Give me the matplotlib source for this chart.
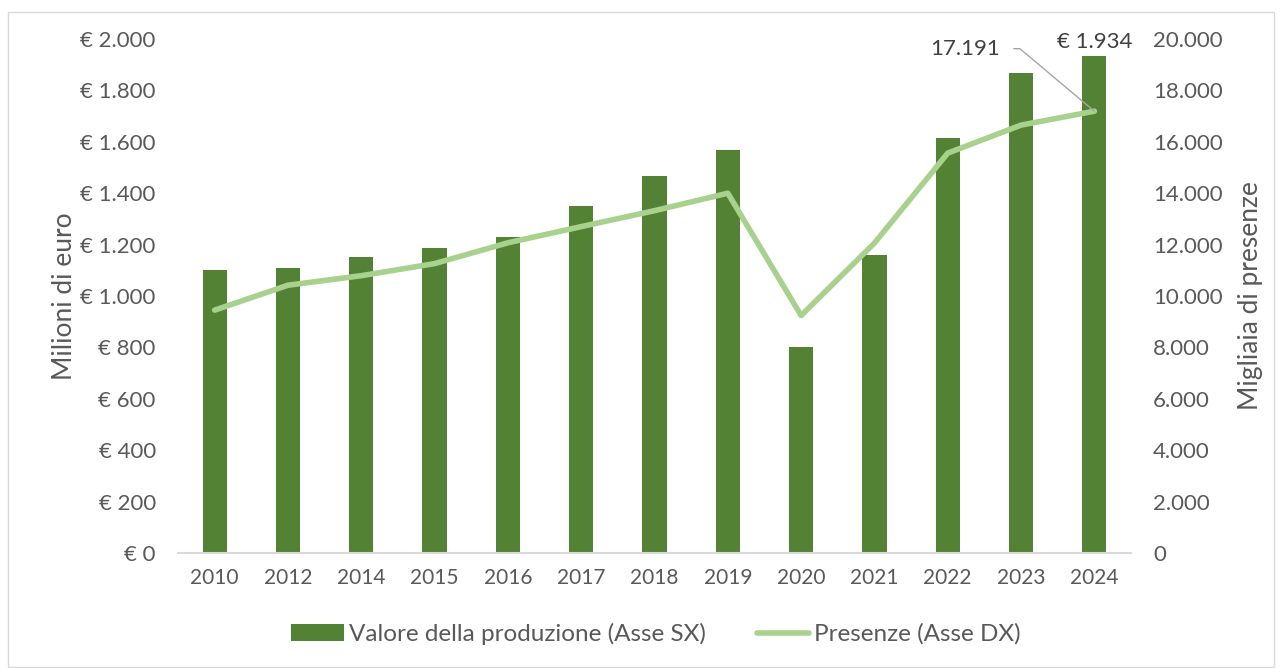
import matplotlib.pyplot as plt
from matplotlib.patches import Rectangle
from matplotlib.ticker import FuncFormatter

anni = ['2010', '2012', '2014', '2015', '2016', '2017', '2018', '2019',
        '2020', '2021', '2022', '2023', '2024']
valore = [1100, 1108, 1150, 1188, 1228, 1352, 1468, 1570, 800, 1158, 1615, 1866, 1934]
presenze = [9450, 10420, 10790, 11260, 12070, 12700, 13320, 14000, 9240, 12060,
            15560, 16650, 17191]

grigio = '#595959'
plt.rcParams['font.family'] = ['Lato', 'DejaVu Sans']


def ita(v):
    return f'{v:,.0f}'.replace(',', '.')


fig = plt.figure(figsize=(12.81, 6.68), dpi=100)
fig.patches.append(Rectangle((8 / 1281, 0.002), 1266 / 1281, 1 - 12 / 668 - 0.002,
                             transform=fig.transFigure, fill=False,
                             edgecolor='#D9D9D9', linewidth=1))
ax = fig.add_axes([178 / 1281, 1 - 553 / 668, (1131 - 178) / 1281, (553 - 39) / 668])
ax2 = ax.twinx()

x = range(len(anni))
barre = ax.bar(x, valore, width=0.33, color='#548235', label='Valore della produzione (Asse SX)')
linea, = ax2.plot(x, presenze, color='#A9D18E', linewidth=4, solid_capstyle='round',
                  label='Presenze (Asse DX)')

ax.set_xlim(-0.5, len(anni) - 0.5)
ax.set_ylim(0, 2000)
ax2.set_ylim(0, 20000)
ax.set_yticks(range(0, 2001, 200))
ax2.set_yticks(range(0, 20001, 2000))
ax.yaxis.set_major_formatter(FuncFormatter(lambda v, p: '€ ' + ita(v)))
ax2.yaxis.set_major_formatter(FuncFormatter(lambda v, p: ita(v)))
ax.set_xticks(list(x))
ax.set_xticklabels(anni)

for a in (ax, ax2):
    for s in a.spines.values():
        s.set_visible(False)
    a.tick_params(length=0, colors=grigio)
ax.spines['bottom'].set_visible(True)
ax.spines['bottom'].set_color('#D9D9D9')
ax.spines['bottom'].set_linewidth(1.5)
ax.tick_params(axis='y', labelsize=16, pad=16)
ax2.tick_params(axis='y', labelsize=16, pad=16)
ax.tick_params(axis='x', labelsize=15, pad=11)

ax.set_ylabel('Milioni di euro', fontsize=19, color=grigio, labelpad=2)
ax2.set_ylabel('Migliaia di presenze', fontsize=19, color=grigio, labelpad=11)

# etichette dati 2024
ax.annotate('€ ' + ita(valore[-1]), (x[-1], valore[-1]), xytext=(0, 3),
            textcoords='offset points', ha='center', va='bottom', fontsize=16, color='#404040')
ax2.annotate(ita(presenze[-1]), (x[-1], presenze[-1]), xytext=(-68, 45),
             textcoords='offset points', ha='right', va='center', fontsize=16, color='#404040',
             arrowprops=dict(arrowstyle='-', color='#A6A6A6', lw=1,
                             connectionstyle='angle,angleA=0,angleB=140,rad=0',
                             shrinkA=8, shrinkB=0))

fig.legend([barre, linea], [barre.get_label(), linea.get_label()], loc='center',
           bbox_to_anchor=(0.512, 1 - 634 / 668), ncol=2, frameon=False, fontsize=17.5,
           labelcolor=grigio, handlelength=2.15, handletextpad=0.2, columnspacing=2.1)

fig.savefig('out.png', dpi=100)
